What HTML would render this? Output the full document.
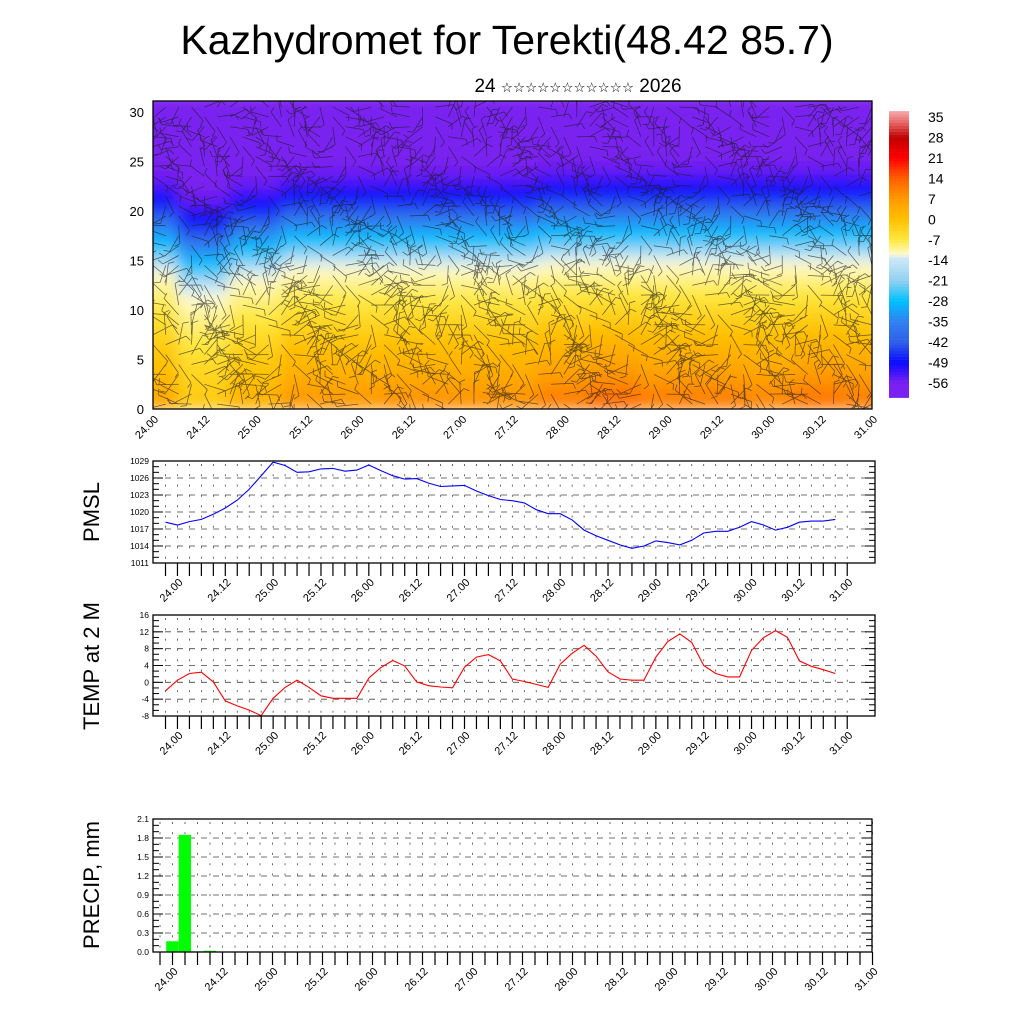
<!DOCTYPE html>
<html><head><meta charset="utf-8"><style>
html,body{margin:0;padding:0;background:#fff}
svg{display:block;font-family:"Liberation Sans",sans-serif}
</style></head><body>
<svg id="s" width="1024" height="1024" viewBox="0 0 1024 1024" xmlns="http://www.w3.org/2000/svg">
<defs>
<filter id="blur" x="0" y="0" width="1" height="1"><feGaussianBlur stdDeviation="7"/></filter>
<clipPath id="topclip"><rect x="153" y="101" width="719" height="308"/></clipPath>
</defs>
<text x="507" y="54" font-size="41" text-anchor="middle">Kazhydromet for Terekti(48.42 85.7)</text>
<text x="578" y="92" font-size="19" text-anchor="middle">24 <tspan font-size="13.5" font-family="DejaVu Sans">☆☆☆☆☆☆☆☆☆☆☆</tspan> 2026</text>
<g id="top"></g>
<g id="cbar"></g>
<g id="pmsl"></g>
<g id="temp"></g>
<g id="precip"></g>
</svg>
<script>
// ---- data ----
const pmslValues=[1018.2,1017.7,1018.3,1018.7,1019.6,1020.7,1022.1,1024.0,1026.4,1028.8,1028.2,1027.0,1027.1,1027.6,1027.7,1027.2,1027.4,1028.3,1027.3,1026.4,1025.8,1025.9,1025.1,1024.5,1024.6,1024.7,1023.7,1022.9,1022.2,1022.0,1021.6,1020.4,1019.7,1019.7,1018.6,1016.8,1015.8,1015.0,1014.2,1013.6,1014.0,1014.9,1014.6,1014.2,1015.0,1016.3,1016.6,1016.6,1017.3,1018.3,1017.7,1016.8,1017.3,1018.2,1018.4,1018.4,1018.7];
const tempValues=[-2.0,0.5,2.1,2.4,0.1,-4.4,-5.6,-6.6,-7.9,-3.8,-1.2,0.5,-1.2,-3.2,-3.8,-3.8,-3.8,1.0,3.5,5.2,3.9,0.1,-0.8,-1.1,-1.3,3.6,6.0,6.6,5.1,0.8,0.2,-0.5,-1.2,4.3,6.9,8.8,6.2,2.5,0.8,0.5,0.5,6.0,9.7,11.5,9.5,4.0,2.1,1.3,1.3,7.6,10.6,12.3,10.7,5.1,3.8,3.0,2.1];
const precipValues=[0,0.17,1.85,0.01,0.02,0,0,0,0,0,0,0,0,0,0,0,0,0,0,0,0,0,0,0,0,0,0,0,0,0,0,0,0,0,0,0,0,0,0,0,0,0,0,0,0,0,0,0,0,0,0,0,0,0,0,0,0];
const dayLabels=["24.00","24.12","25.00","25.12","26.00","26.12","27.00","27.12","28.00","28.12","29.00","29.12","30.00","30.12","31.00"];
const pmslTicks=[1011,1014,1017,1020,1023,1026,1029];
const tempTicks=[-8,-4,0,4,8,12,16];
const precipTicks=[0,0.3,0.6,0.9,1.2,1.5,1.8,2.1];
const heightTicks=[0,5,10,15,20,25,30];
const cbarLabels=[35,28,21,14,7,0,-7,-14,-21,-28,-35,-42,-49,-56];
// vertical temperature profile (level -> degC), 12h column anomalies
const profileLevels=[0,2,4,6,8,10,12,13,14,15,16,17,18,19,20,21,22,23,25,31];
const profileTemps=[8,5,2,0,-3,-6,-9,-10.5,-12,-16,-24,-28,-32,-37,-43,-48,-50,-54,-57,-60];
const surfAnom=[-2,-5,-3,0,0,1,1,1,3,5,3,3,2,4,3];
const levelShift=[-0.5,-2.5,-1,0,0,0,0,0,0.5,0.5,0.5,0.5,0.5,0.5,0.5];

const NS="http://www.w3.org/2000/svg";
function mk(tag,attrs,parent){const e=document.createElementNS(NS,tag);for(const k in attrs)e.setAttribute(k,attrs[k]);parent.appendChild(e);return e;}
const stops=[[-62,[122,32,240]],[-56,[122,32,240]],[-49,[10,10,255]],[-42,[48,96,232]],[-35,[48,128,240]],[-28,[0,192,255]],[-21,[144,208,240]],[-13,[208,234,248]],[-12,[255,250,208]],[-7,[255,232,64]],[0,[255,192,0]],[7,[255,154,0]],[14,[255,96,0]],[21,[255,0,0]],[28,[192,0,0]],[33,[230,100,100]],[37,[244,168,168]]];
function tcolor(t){if(t<=stops[0][0])return"rgb("+stops[0][1]+")";for(let i=1;i<stops.length;i++){if(t<=stops[i][0]){const a=stops[i-1],b=stops[i],f=(t-a[0])/(b[0]-a[0]);return"rgb("+a[1].map((c,j)=>Math.round(c+(b[1][j]-c)*f)).join(",")+")";}}return"rgb("+stops[stops.length-1][1]+")";}
function profile(h){if(h<=profileLevels[0])return profileTemps[0];for(let i=1;i<profileLevels.length;i++){if(h<=profileLevels[i]){const f=(h-profileLevels[i-1])/(profileLevels[i]-profileLevels[i-1]);return profileTemps[i-1]+(profileTemps[i]-profileTemps[i-1])*f;}}return profileTemps[profileTemps.length-1];}

// ---- top cross-section ----
(function(){
const g=document.getElementById('top');
const X0=153,X1=872,yv=v=>409-v*9.9;
const cx=i=>X0+(X1-X0)*i/(surfAnom.length-1);
const heat=mk('g',{'clip-path':'url(#topclip)'},g);


const hg=mk('g',{filter:'url(#blur)'},heat);
const cw=(X1-X0)/(surfAnom.length-1);
for(let c=0;c<surfAnom.length;c++){for(let h=0;h<32;h+=0.5){
 const t=profile(h-levelShift[c])+surfAnom[c]*Math.max(0,1-h/13);
 const r=mk('rect',{x:cx(c)-cw/2-1,y:yv(h+0.5),width:cw+2,height:5.5,fill:tcolor(t)},hg);
 
 
}}
// wind barb texture
const wb=mk('g',{stroke:'#1a1a1a','stroke-width':'0.75',opacity:'0.65','clip-path':'url(#topclip)'},g);


let d="";
for(let i=0;i<57;i++){for(let j=0;j<31;j++){
 const x=X0+i*12.84,y=yv(j+0.5);
 const a=Math.sin(i*0.7+j*0.45)*2.2+Math.cos(j*0.3-i*0.2)*1.3+(j<14?0.2:1.3);
 const L=j<14?22:18,ex=x+Math.cos(a)*L,ey=y+Math.sin(a)*L;
 d+="M"+x.toFixed(1)+" "+y.toFixed(1)+"L"+ex.toFixed(1)+" "+ey.toFixed(1);
 const bx=ex+Math.cos(a+1.2)*6,by=ey+Math.sin(a+1.2)*6;
 d+="M"+ex.toFixed(1)+" "+ey.toFixed(1)+"L"+bx.toFixed(1)+" "+by.toFixed(1);
}}
mk('path',{d:d,fill:'none'},wb);
const frame=mk('rect',{x:X0,y:101,width:X1-X0,height:308,fill:'none',stroke:'#000','stroke-width':'1.3'},g);


heightTicks.forEach(v=>{const t=mk('text',{x:144,y:yv(v)+5,'font-size':13,'text-anchor':'end'},g);t.textContent=v;
 });
dayLabels.forEach((s,k)=>{const x=X0+(X1-X0)*k/(dayLabels.length-1);
 const t=mk('text',{x:0,y:0,'font-size':11,'text-anchor':'end',transform:'translate('+(x+6)+',420) rotate(-45)'},g);t.textContent=s;
 });
})();

// ---- colorbar ----
(function(){
const g=document.getElementById('cbar');
const yt=t=>117+(35-t)*2.923;
for(let t=-61;t<37;t+=1){const r=mk('rect',{x:889,y:yt(t+1),width:20,height:3.2,fill:tcolor(t+0.5)},g);
 }
cbarLabels.forEach(v=>{const t=mk('text',{x:928,y:yt(v)+5,'font-size':14},g);t.textContent=v;
 });
})();

// ---- generic panel ----
function panel(id,opt){
const g=document.getElementById(id);
const {L,R,T,B,vmin,vmax,ticks,fmt,x0,dx,title,ty}=opt;
const yv=v=>B-(v-vmin)*(B-T)/(vmax-vmin);
const xv=i=>x0+i*dx;
const n=57;
const grid=mk('g',{stroke:'#444','stroke-width':'0.8'},g);

ticks.forEach(v=>{if(v===vmin||v===vmax)return;mk('line',{x1:L,x2:R,y1:yv(v),y2:yv(v),'stroke-dasharray':'6,6'},grid);});
for(let i=0;i<=n;i++){mk('line',{x1:xv(i),x2:xv(i),y1:T,y2:B,'stroke-dasharray':'2,8.3','stroke-dashoffset':'-3'},grid);}
const mt=mk('g',{stroke:'#000','stroke-width':'1'},g);

const step=(ticks[1]-ticks[0])/3;
for(let v=vmin;v<=vmax+1e-6;v+=step){const maj=Math.abs((v-vmin)/(3*step)-Math.round((v-vmin)/(3*step)))<1e-3;const len=maj?10:6;
 mk('line',{x1:L,x2:L+len,y1:yv(v),y2:yv(v)},mt);mk('line',{x1:R,x2:R-len,y1:yv(v),y2:yv(v)},mt);}
for(let i=0;i<=n;i++){mk('line',{x1:xv(i),x2:xv(i),y1:B,y2:B+13,'stroke-width':'1.2'},mt);}
ticks.forEach(v=>{const t=mk('text',{x:L-4,y:yv(v)+3,'font-size':8.5,'text-anchor':'end'},g);t.textContent=fmt(v);
 });
dayLabels.forEach((s,k)=>{const x=xv(1+k*4);
 const t=mk('text',{x:0,y:0,'font-size':11,'text-anchor':'end',transform:'translate('+(x+6)+','+(B+20)+') rotate(-45)'},g);t.textContent=s;
 });
const tt=mk('text',{x:0,y:0,'font-size':22,'text-anchor':'middle',transform:'translate(99,'+ty+') rotate(-90)'},g);tt.textContent=title;

return {g,yv,xv,L,R,T,B};
}
function frame(p,id){const f=mk('rect',{x:p.L,y:p.T,width:p.R-p.L,height:p.B-p.T,fill:'none',stroke:'#000','stroke-width':'1.3'},p.g);
 }

const pp=panel('pmsl',{L:153,R:875,T:461,B:563,vmin:1011,vmax:1029,ticks:pmslTicks,fmt:v=>v,x0:165.5,dx:11.96,title:'PMSL',ty:512});
const pl=mk('polyline',{points:pmslValues.map((v,i)=>pp.xv(i).toFixed(1)+','+pp.yv(v).toFixed(1)).join(' '),fill:'none',stroke:'#0000ff','stroke-width':'1.1'},pp.g);

frame(pp,'pmsl');

const tp=panel('temp',{L:153,R:875,T:615,B:716,vmin:-8,vmax:16,ticks:tempTicks,fmt:v=>v,x0:165.5,dx:11.96,title:'TEMP at 2 M',ty:666});
const tl=mk('polyline',{points:tempValues.map((v,i)=>tp.xv(i).toFixed(1)+','+tp.yv(v).toFixed(1)).join(' '),fill:'none',stroke:'#ff0000','stroke-width':'1.1'},tp.g);

frame(tp,'temp');

const rp=panel('precip',{L:153,R:872,T:819,B:952,vmin:0,vmax:2.1,ticks:precipTicks,fmt:v=>v.toFixed(1),x0:160,dx:12.5,title:'PRECIP, mm',ty:885});
precipValues.forEach((v,i)=>{if(v<=0)return;const x=rp.xv(i)-6.3;
 const b=mk('rect',{x:x,y:rp.yv(v),width:12.3,height:rp.B-rp.yv(v),fill:'#00ff00'},rp.g);
 });
frame(rp,'precip');
</script>
</body></html>
